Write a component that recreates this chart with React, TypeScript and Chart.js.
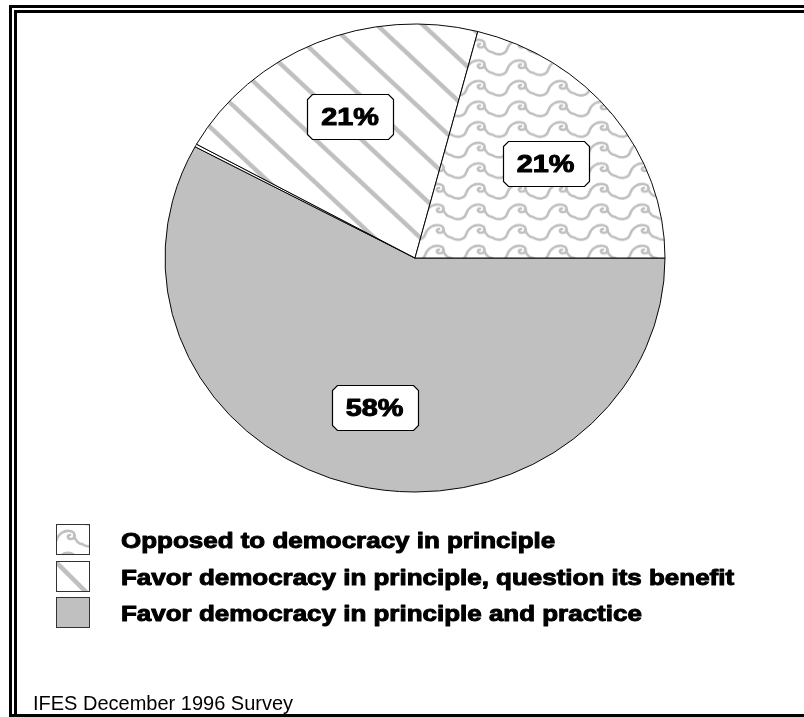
import React, { useEffect, useRef } from "react";
import { Chart, ArcElement, PieController } from "chart.js";

Chart.register(ArcElement, PieController);

// ---- data ----
const categories = [
  "Favor democracy in principle and practice",
  "No answer",
  "Favor democracy in principle, question its benefit",
  "Opposed to democracy in principle",
];
const values = [58, 0.2, 21, 21];
const pctLabels = ["58%", "", "21%", "21%"];
const legendOrder = [3, 2, 0];
const sourceNote = "IFES December 1996 Survey";

const GRAY = "#c0c0c0";
const SQUASH_Y = 0.936;

function makeStripePattern(ctx: CanvasRenderingContext2D) {
  const s = 46;
  const c = document.createElement("canvas");
  c.width = s;
  c.height = s;
  const g = c.getContext("2d")!;
  g.fillStyle = "#ffffff";
  g.fillRect(0, 0, s, s);
  g.strokeStyle = GRAY;
  g.lineWidth = 4.5;
  for (const k of [-1, 0, 1]) {
    g.beginPath();
    g.moveTo(k * s - 4, -4);
    g.lineTo(k * s + s + 4, s + 4);
    g.stroke();
  }
  return ctx.createPattern(c, "repeat")!;
}

function makeWavePattern(ctx: CanvasRenderingContext2D) {
  const w = 41;
  const h = 22;
  const c = document.createElement("canvas");
  c.width = w;
  c.height = h;
  const g = c.getContext("2d")!;
  g.fillStyle = "#ffffff";
  g.fillRect(0, 0, w, h);
  g.strokeStyle = GRAY;
  g.lineWidth = 2.6;
  g.lineCap = "round";
  g.lineJoin = "round";
  const drawMotif = (ox: number) => {
    g.beginPath();
    g.moveTo(ox + 0, 16);
    g.bezierCurveTo(ox + 6, 20, ox + 13, 19, ox + 15, 13);
    g.bezierCurveTo(ox + 17, 6, ox + 23, 2, ox + 29, 3);
    g.bezierCurveTo(ox + 35, 4, ox + 35, 11, ox + 30, 11);
    g.bezierCurveTo(ox + 26, 11, ox + 26, 7, ox + 29, 7);
    g.stroke();
    g.beginPath();
    g.moveTo(ox + 33, 8);
    g.bezierCurveTo(ox + 35, 13, ox + 38, 16, ox + 41, 16);
    g.stroke();
  };
  drawMotif(0);
  drawMotif(-w);
  drawMotif(w);
  return ctx.createPattern(c, "repeat")!;
}

function stretchedText(
  ctx: CanvasRenderingContext2D,
  text: string,
  x: number,
  y: number,
  font: string,
  sx: number,
  stroke: number,
  align: "left" | "center"
) {
  ctx.save();
  ctx.font = font;
  const w = ctx.measureText(text).width * sx;
  const startX = align === "center" ? x - w / 2 : x;
  ctx.translate(startX, y);
  ctx.scale(sx, 1);
  ctx.textAlign = "left";
  ctx.textBaseline = "alphabetic";
  ctx.fillStyle = "#000";
  ctx.fillText(text, 0, 0);
  if (stroke > 0) {
    ctx.strokeStyle = "#000";
    ctx.lineWidth = stroke;
    ctx.lineJoin = "round";
    ctx.strokeText(text, 0, 0);
  }
  ctx.restore();
}

export default function App() {
  const ref = useRef<HTMLCanvasElement | null>(null);

  useEffect(() => {
    const canvas = ref.current!;
    const ctx0 = canvas.getContext("2d")!;
    const stripes = makeStripePattern(ctx0);
    const waves = makeWavePattern(ctx0);
    const fills = [GRAY, "#ffffff", stripes, waves];

    const squash = {
      id: "squash",
      beforeDatasetsDraw(chart: any) {
        const ctx = chart.ctx;
        const a = chart.chartArea;
        const cy = (a.top + a.bottom) / 2;
        ctx.save();
        ctx.translate(0, cy);
        ctx.scale(1, SQUASH_Y);
        ctx.translate(0, -cy);
      },
      afterDatasetsDraw(chart: any) {
        chart.ctx.restore();
      },
    };

    const overlay = {
      id: "overlay",
      afterDraw(chart: any) {
        const ctx: CanvasRenderingContext2D = chart.ctx;
        const W = chart.width;
        const H = chart.height;
        // frame
        ctx.save();
        ctx.fillStyle = "#000";
        ctx.fillRect(9, 5, W - 9, 3);
        ctx.fillRect(14, 10, W - 14, 3);
        ctx.fillRect(9, 5, 3, H - 5);
        ctx.fillRect(14, 10, 3, H - 10);
        ctx.fillRect(9, H - 3, W - 9, 3);
        ctx.restore();

        // percentage labels
        const meta = chart.getDatasetMeta(0);
        meta.data.forEach((arc: any, i: number) => {
          if (!pctLabels[i]) return;
          const p = arc.getProps(["startAngle", "endAngle", "outerRadius", "x", "y"], true);
          const mid = (p.startAngle + p.endAngle) / 2;
          const r = p.outerRadius * 0.66;
          const cx = p.x + Math.cos(mid) * r;
          const cy = p.y + Math.sin(mid) * r * SQUASH_Y;
          const bw = 86;
          const bh = 45;
          const ch = 5;
          const l = Math.round(cx - bw / 2) + 0.5;
          const t = Math.round(cy - bh / 2) + 0.5;
          ctx.save();
          ctx.beginPath();
          ctx.moveTo(l + ch, t);
          ctx.lineTo(l + bw - ch, t);
          ctx.lineTo(l + bw, t + ch);
          ctx.lineTo(l + bw, t + bh - ch);
          ctx.lineTo(l + bw - ch, t + bh);
          ctx.lineTo(l + ch, t + bh);
          ctx.lineTo(l, t + bh - ch);
          ctx.lineTo(l, t + ch);
          ctx.closePath();
          ctx.fillStyle = "#fff";
          ctx.fill();
          ctx.strokeStyle = "#000";
          ctx.lineWidth = 1.2;
          ctx.stroke();
          ctx.restore();
          stretchedText(ctx, pctLabels[i], cx, cy + 8.5, "bold 24px 'Liberation Sans'", 1.2, 1, "center");
        });

        // legend
        const baselines = [548, 585, 621];
        legendOrder.forEach((idx, row) => {
          const by = baselines[row];
          const bx = 56;
          const top = by - 24;
          ctx.save();
          ctx.fillStyle = fills[idx] as any;
          ctx.fillRect(bx, top, 34, 31);
          ctx.strokeStyle = "#333";
          ctx.lineWidth = 1;
          ctx.strokeRect(bx + 0.5, top + 0.5, 33, 30);
          ctx.restore();
          stretchedText(ctx, categories[idx], 121, by, "bold 22px 'Liberation Sans'", 1.18, 1, "left");
        });

        // source note
        ctx.save();
        ctx.font = "20px 'Liberation Sans'";
        ctx.fillStyle = "#000";
        ctx.textAlign = "left";
        ctx.textBaseline = "alphabetic";
        ctx.fillText(sourceNote, 33, 710);
        ctx.restore();
      },
    };

    const chart = new Chart(canvas, {
      type: "pie",
      data: {
        labels: categories,
        datasets: [
          {
            data: values,
            backgroundColor: fills as any,
            borderColor: "#000",
            borderWidth: 1,
          },
        ],
      },
      options: {
        responsive: false,
        animation: false,
        devicePixelRatio: 1,
        rotation: 90,
        radius: 250,
        layout: { padding: { left: 165, right: 139, top: 8, bottom: 209 } },
        plugins: {
          legend: { display: false },
          tooltip: { enabled: false },
        } as any,
        events: [],
      } as any,
      plugins: [squash, overlay],
    });
    return () => chart.destroy();
  }, []);

  return (
    <div style={{ position: "absolute", left: 0, top: 0, width: 804, height: 717, background: "#fff" }}>
      <canvas ref={ref} width={804} height={717} style={{ width: 804, height: 717, display: "block" }} />
    </div>
  );
}
